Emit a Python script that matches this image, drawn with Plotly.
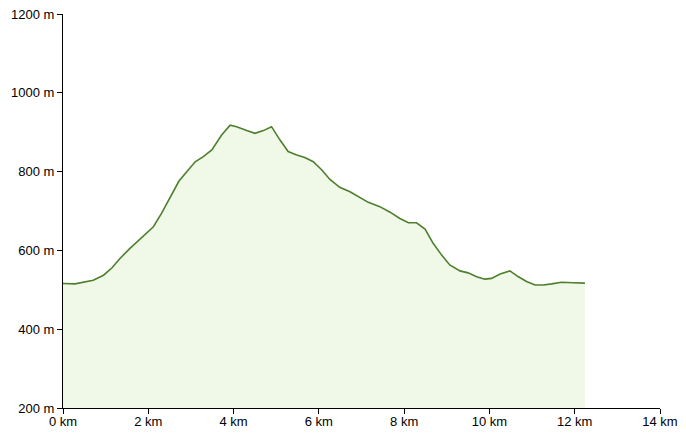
import plotly.graph_objects as go

# elevation profile
distance_km = [0.0, 0.28, 0.71, 0.95, 1.15, 1.34, 1.57, 1.88, 2.12, 2.31, 2.51, 2.72,
               3.10, 3.29, 3.49, 3.72, 3.92, 4.07, 4.31, 4.50, 4.70, 4.89, 5.09, 5.28,
               5.48, 5.67, 5.87, 6.07, 6.26, 6.49, 6.73, 6.96, 7.16, 7.43, 7.67, 7.90,
               8.10, 8.29, 8.49, 8.68, 8.88, 9.07, 9.31, 9.50, 9.70, 9.89, 10.05, 10.25,
               10.48, 10.68, 10.87, 11.07, 11.26, 11.46, 11.69, 11.96, 12.24]
elevation_m = [516, 515, 524, 537, 556, 580, 605, 635, 660, 694, 736, 776,
               825, 838, 855, 893, 918, 914, 904, 897, 904, 914, 880, 851,
               842, 836, 825, 804, 780, 760, 749, 735, 722, 711, 697, 681,
               670, 670, 654, 618, 588, 563, 548, 543, 533, 527, 529, 540,
               548, 533, 521, 512, 512, 515, 519, 518, 517]

x_ticks = [0, 2, 4, 6, 8, 10, 12, 14]
y_ticks = [200, 400, 600, 800, 1000, 1200]

fig = go.Figure()
fig.add_trace(go.Scatter(
    x=distance_km, y=elevation_m,
    mode="lines",
    line=dict(color="#4e7f2c", width=1.6),
    fill="tozeroy",
    fillcolor="rgba(234,245,222,0.7)",
    hoverinfo="x+y",
))

axis_common = dict(
    showgrid=False, zeroline=False, showline=True, linecolor="black", linewidth=1,
    ticks="outside", ticklen=5, tickcolor="black", automargin=False,
    tickfont=dict(family="Liberation Sans, Arial, sans-serif", size=13, color="black"),
)
fig.update_xaxes(range=[0, 14], tickvals=x_ticks, ticktext=[f"{v} km" for v in x_ticks],
                 ticklabelstandoff=-4, **axis_common)
fig.update_yaxes(range=[200, 1200], tickvals=y_ticks, ticktext=[f"{v} m" for v in y_ticks], **axis_common)

fig.update_layout(
    width=686, height=439,
    margin=dict(l=63, r=26, t=14, b=31),
    plot_bgcolor="white", paper_bgcolor="white",
    showlegend=False,
)

# drop the default page margin so the figure sits at the window's corner
fig.write_html("out.html", config={"displayModeBar": False},
               post_script="document.body.style.margin='0';")
